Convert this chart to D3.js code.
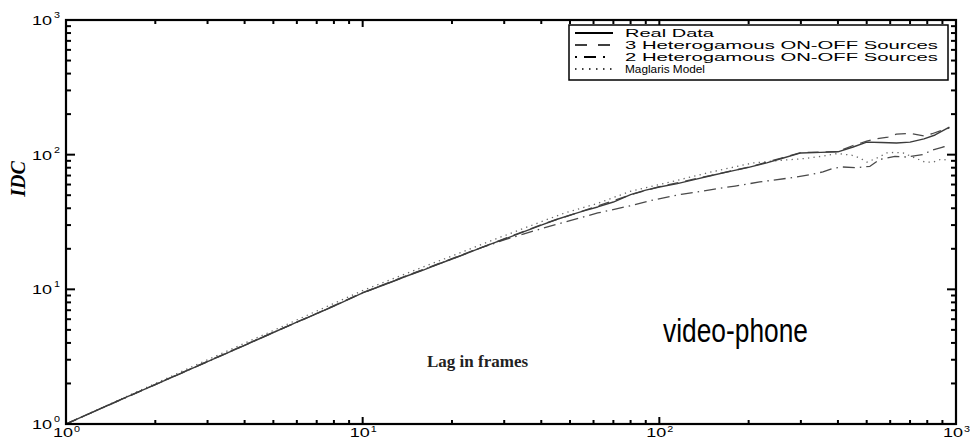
<!DOCTYPE html>
<html>
<head>
<meta charset="utf-8">
<script src="https://cdn.jsdelivr.net/npm/d3@7"></script>
<style>
  html, body { margin: 0; padding: 0; background: #fff; }
  svg { display: block; }
</style>
</head>
<body>
<svg id="chart" width="970" height="446"></svg>
<script>
// Index of dispersion for counts (IDC) vs. lag, video-phone trace
const realLag = [1, 1.5, 2, 3, 4, 5, 6, 7, 8, 9, 10, 12, 14, 16, 18, 20, 22, 25, 28, 31, 35, 40, 45, 50, 56, 62, 70, 80, 90, 100, 115, 130, 150, 170, 200, 230, 260, 300, 350, 400, 450, 500, 560, 630, 700, 780, 850, 950];
const realIdc = [1, 1.49, 1.96, 2.9, 3.84, 4.78, 5.7, 6.6, 7.5, 8.45, 9.4, 10.95, 12.5, 13.9, 15.4, 16.8, 18.2, 20.3, 22.3, 24.2, 26.8, 30.0, 33.0, 35.6, 38.4, 40.9, 44.5, 50.5, 54.5, 57.5, 61, 65, 70, 74.5, 80.5, 87, 94, 103, 104, 105, 114, 124, 123, 122, 124, 131, 140, 160];

const het3Lag = [1, 2, 3, 5, 7, 10, 14, 20, 28, 40, 56, 80, 100, 150, 200, 300, 400, 450, 500, 540, 590, 630, 700, 780, 830, 900, 950];
const het3Idc = [1, 1.97, 2.92, 4.8, 6.62, 9.45, 12.6, 16.9, 22.4, 30.2, 38.6, 50.3, 57.8, 70.3, 80.8, 103.5, 105.5, 117, 126, 131, 135, 142, 144, 138, 143, 152, 158];

const het2Lag = [1, 2, 3, 5, 7, 10, 14, 20, 25, 30, 35, 40, 50, 62, 80, 95, 120, 150, 180, 218, 240, 273, 298, 322, 356, 384, 415, 463, 513, 553, 623, 681, 771, 830, 903, 950];
const het2Idc = [1, 1.96, 2.9, 4.78, 6.6, 9.4, 12.5, 16.8, 20.3, 23.3, 25.8, 28.2, 32.4, 36.9, 41.8, 46, 51, 55, 58.5, 62.7, 64.5, 67, 69, 71, 74.5, 79, 81, 80, 82, 92, 97, 96, 100, 108, 114, 116];

const magLag = [1, 2, 3, 5, 7, 10, 14, 20, 28, 40, 48, 62, 80, 109, 150, 206, 260, 300, 350, 400, 446, 474, 501, 542, 585, 623, 663, 716, 786, 836, 897, 950];
const magIdc = [1, 2.0, 3.0, 4.95, 6.9, 9.8, 13.1, 17.7, 23.6, 31.8, 36.9, 43.5, 53.5, 62.7, 74.5, 86.7, 91, 93, 97, 102, 99, 94.5, 88, 94.5, 103, 104, 103, 96, 88, 88, 93, 90];

const xTickValues = [1, 10, 100, 1000];
const yTickValues = [1, 10, 100, 1000];
const tickExponents = ["0", "1", "2", "3"];

const legendLabels = ["Real Data", "3 Heterogamous ON-OFF Sources", "2 Heterogamous ON-OFF Sources", "Maglaris Model"];

const svg = d3.select("#chart");
const plotLeft = 66, plotRight = 956, plotTop = 20, plotBottom = 424;

const x = d3.scaleLog().domain([1, 1000]).range([plotLeft, plotRight]);
const y = d3.scaleLog().domain([1, 1000]).range([plotBottom, plotTop]);

svg.append("defs").append("clipPath").attr("id", "plotClip")
  .append("rect").attr("x", plotLeft).attr("y", plotTop)
  .attr("width", plotRight - plotLeft).attr("height", plotBottom - plotTop);

// series
const line = d3.line().x(d => x(d[0])).y(d => y(d[1]));
const series = [
  { lag: magLag, idc: magIdc, dash: "1.3,4.2", color: "#6a6a6a", width: 1.3 },
  { lag: het2Lag, idc: het2Idc, dash: "12,5,1.5,5", color: "#4a4a4a", width: 1.3 },
  { lag: het3Lag, idc: het3Idc, dash: "11,7", color: "#4a4a4a", width: 1.3 },
  { lag: realLag, idc: realIdc, dash: null, color: "#3c3c3c", width: 1.4 }
];
const plot = svg.append("g").attr("clip-path", "url(#plotClip)");
series.forEach(s => {
  plot.append("path")
    .datum(d3.zip(s.lag, s.idc))
    .attr("d", line)
    .attr("fill", "none")
    .attr("stroke", s.color)
    .attr("stroke-width", s.width)
    .attr("stroke-dasharray", s.dash)
    .attr("stroke-linejoin", "round");
});

// inward ticks on all four sides (major at decades, minor in between)
const tickList = x.ticks().map(v => ({ v, major: xTickValues.includes(v) }));
const ticksG = svg.append("g").attr("stroke", "#000").attr("stroke-width", 2);
// bottom and top
[[plotBottom, -1], [plotTop, 1]].forEach(([yy, dir]) => {
  ticksG.append("g").selectAll("line").data(tickList).join("line")
    .attr("x1", d => x(d.v)).attr("x2", d => x(d.v))
    .attr("y1", yy).attr("y2", d => yy + dir * (d.major ? 7 : 4));
});
// left and right
[[plotLeft, 1], [plotRight, -1]].forEach(([xx, dir]) => {
  ticksG.append("g").selectAll("line").data(tickList).join("line")
    .attr("y1", d => y(d.v)).attr("y2", d => y(d.v))
    .attr("x1", xx).attr("x2", d => xx + dir * (d.major ? 9 : 5));
});

// frame
svg.append("rect")
  .attr("x", plotLeft).attr("y", plotTop)
  .attr("width", plotRight - plotLeft).attr("height", plotBottom - plotTop)
  .attr("fill", "none").attr("stroke", "#000").attr("stroke-width", 2.2);

// tick labels (powers of ten)
const tickFont = "'Liberation Sans', Arial, sans-serif";
yTickValues.forEach((v, i) => {
  const yy = y(v);
  svg.append("text").attr("x", 32).attr("y", yy + 5)
    .attr("font-family", tickFont).attr("font-size", 12.5)
    .attr("textLength", 20).attr("lengthAdjust", "spacingAndGlyphs")
    .text("10");
  svg.append("text").attr("x", 54).attr("y", yy - 2)
    .attr("font-family", tickFont).attr("font-size", 9)
    .attr("textLength", 6).attr("lengthAdjust", "spacingAndGlyphs")
    .text(tickExponents[i]);
});
xTickValues.forEach((v, i) => {
  const xx = x(v);
  svg.append("text").attr("x", xx - 13).attr("y", 437)
    .attr("font-family", tickFont).attr("font-size", 12.5)
    .attr("textLength", 20).attr("lengthAdjust", "spacingAndGlyphs")
    .text("10");
  svg.append("text").attr("x", xx + 8).attr("y", 432)
    .attr("font-family", tickFont).attr("font-size", 9)
    .attr("textLength", 6).attr("lengthAdjust", "spacingAndGlyphs")
    .text(tickExponents[i]);
});

// axis titles
svg.append("text")
  .attr("transform", "translate(25,179) rotate(-90)")
  .attr("text-anchor", "middle")
  .attr("font-family", "'Liberation Serif', 'Times New Roman', serif")
  .attr("font-weight", "bold").attr("font-style", "italic")
  .attr("font-size", 20)
  .text("IDC");

svg.append("text")
  .attr("x", 427).attr("y", 367)
  .attr("font-family", "'Liberation Serif', 'Times New Roman', serif")
  .attr("font-weight", "bold").attr("font-size", 17)
  .attr("fill", "#222")
  .text("Lag in frames");

svg.append("text")
  .attr("x", 663).attr("y", 342)
  .attr("font-family", "'Liberation Sans', Arial, sans-serif")
  .attr("font-size", 33)
  .attr("textLength", 145).attr("lengthAdjust", "spacingAndGlyphs")
  .text("video-phone");

// legend
const lg = svg.append("g");
lg.append("rect").attr("x", 569).attr("y", 25).attr("width", 379).attr("height", 55)
  .attr("fill", "#fff").attr("stroke", "#000").attr("stroke-width", 1.5);
const legendStyles = [
  { dash: null, width: 2.2 },
  { dash: "12,11", width: 1.3 },
  { dash: "2,7,12,7,2,20", width: 1.8 },
  { dash: "1.5,5.5", width: 1.3 }
];
const legendWidths = [89, 313, 313, 80];
legendLabels.forEach((lab, i) => {
  const yy = 33 + i * 12;
  lg.append("line").attr("x1", 575).attr("x2", 613).attr("y1", yy).attr("y2", yy)
    .attr("stroke", "#000").attr("stroke-width", legendStyles[i].width)
    .attr("stroke-dasharray", legendStyles[i].dash);
  lg.append("text").attr("x", 625).attr("y", yy + 4)
    .attr("font-family", tickFont).attr("font-size", 10.5)
    .attr("textLength", legendWidths[i]).attr("lengthAdjust", "spacingAndGlyphs")
    .text(lab);
});
</script>
</body>
</html>
